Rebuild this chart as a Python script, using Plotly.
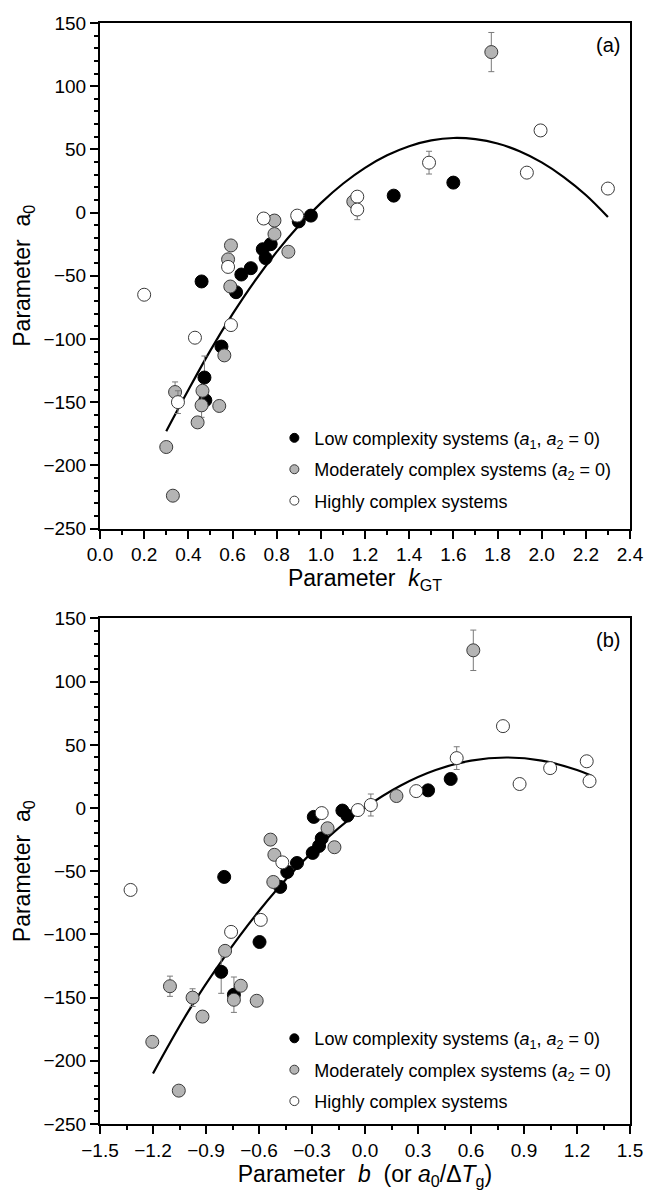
import plotly.graph_objects as go

# ---------------- Panel (a): a0 vs k_GT ----------------
a_low_x = [0.955, 0.90, 0.737, 0.773, 0.75, 0.683, 0.64, 0.616, 0.46, 0.55, 0.473, 0.477, 1.33, 1.60]
a_low_y = [-2.4, -7, -29, -25, -36, -44, -49, -63, -54.5, -106, -130.5, -148.5, 13.4, 23.7]
a_low_err = [0, 0, 0, 0, 0, 0, 0, 0, 0, 0, 17, 0, 0, 0]

a_mod_x = [0.79, 0.79, 0.853, 0.593, 0.58, 0.59, 0.563, 0.34, 0.464, 0.46, 0.54, 0.442, 0.30, 0.33, 1.772, 1.147]
a_mod_y = [-6.3, -17, -31, -26, -37, -58.5, -113, -142, -141, -152.5, -153, -166, -185.5, -224, 127, 8.7]
a_mod_err = [0, 0, 0, 0, 0, 0, 0, 8, 0, 9.5, 0, 0, 0, 0, 15.5, 0]

a_high_x = [0.741, 0.893, 0.58, 0.20, 0.593, 0.43, 0.353, 1.995, 1.933, 2.30, 1.49, 1.165, 1.165]
a_high_y = [-4.7, -2.4, -43, -65, -89, -99, -150, 65, 31.6, 19, 39.5, 12.6, 2.4]
a_high_err = [0, 0, 0, 0, 0, 0, 9, 0, 0, 0, 9, 0, 8]

a_fit_x = [0.30, 0.40, 0.50, 0.60, 0.70, 0.80, 0.90, 1.00, 1.10, 1.20, 1.30, 1.40,
           1.50, 1.60, 1.70, 1.80, 1.90, 2.00, 2.10, 2.20, 2.30]
a_fit_y = [-173, -140.4, -109, -80.4, -54.4, -31.1, -10.5, 7.5, 22.8, 35.4, 45.3, 52.5,
           57.1, 59, 58.1, 54.7, 48.5, 39.7, 28.1, 13.9, -3.5]

# ---------------- Panel (b): a0 vs b ----------------
b_low_x = [-0.128, -0.10, 0.357, 0.485, -0.29, -0.385, -0.296, -0.26, -0.245, -0.48, -0.44,
           -0.797, -0.597, -0.814, -0.742]
b_low_y = [-2, -6, 14, 23, -7, -43.5, -35.5, -30, -24, -62.4, -50.6, -54.5, -106, -129.6, -147.7]
b_low_err = [0, 0, 0, 0, 0, 0, 0, 0, 0, 0, 0, 0, 0, 17, 14]

b_mod_x = [0.613, 0.178, -0.212, -0.173, -0.535, -0.513, -0.519, -0.792, -1.104, -0.703,
           -0.976, -0.742, -0.613, -0.92, -1.204, -1.054]
b_mod_y = [124.8, 9.5, -16, -31, -25, -37, -58.5, -113, -141, -140.6, -150, -151.7,
           -152.5, -165, -185, -223.6]
b_mod_err = [16, 0, 0, 0, 0, 0, 0, 0, 8, 0, 7, 0, 0, 0, 0, 0]

b_high_x = [0.781, 0.519, 1.048, 1.255, 1.271, 0.875, 0.29, 0.033, -0.04, -0.245, -0.468,
            -1.327, -0.59, -0.758]
b_high_y = [64.8, 39.5, 31.6, 37, 21.3, 19, 13.4, 2.4, -1.6, -4, -43, -64.8, -88.5, -98]
b_high_err = [0, 9, 0, 0, 0, 0, 0, 8.7, 0, 0, 0, 0, 0, 0]

b_fit_x = [-1.20, -1.00, -0.80, -0.60, -0.40, -0.20, 0.00, 0.20, 0.40, 0.60, 0.80, 1.00, 1.20, 1.28]
b_fit_y = [-210, -160.9, -118.7, -81.5, -49.3, -22, 0.3, 17.7, 30.1, 37.5, 40, 37.5, 30.1, 25.7]

legend_names = [
    "Low complexity systems (<i>a</i><sub>1</sub>, <i>a</i><sub>2</sub> = 0)",
    "Moderately complex systems (<i>a</i><sub>2</sub> = 0)",
    "Highly complex systems",
]

FONT = "Arial, Liberation Sans, sans-serif"
styles = [
    dict(color="#000000", line=dict(color="#000000", width=1)),
    dict(color="#b4b4b4", line=dict(color="#3a3a3a", width=1)),
    dict(color="#ffffff", line=dict(color="#3a3a3a", width=1)),
]
MS = 13

fig = go.Figure()

def add_panel(xref, yref, sets, fitx, fity, legend_id):
    fig.add_trace(go.Scatter(x=fitx, y=fity, mode="lines", line=dict(color="black", width=2.2, shape="spline"),
                             xaxis=xref, yaxis=yref, showlegend=False, hoverinfo="skip"))
    for (xs, ys, es), st in zip(sets, styles):
        fig.add_trace(go.Scatter(
            x=xs, y=ys, mode="markers", xaxis=xref, yaxis=yref, showlegend=False,
            marker=dict(size=MS, color=st["color"], line=st["line"]),
            error_y=dict(type="data", array=es, visible=True, color="#7a7a7a", thickness=1, width=3),
        ))
    for i, (name, st) in enumerate(zip(legend_names, styles)):
        fig.add_trace(go.Scatter(
            x=[None], y=[None], mode="markers", xaxis=xref, yaxis=yref, name=name,
            legend=legend_id, legendgroup=f"{legend_id}_{i}",
            marker=dict(size=9, color=st["color"], line=st["line"]),
        ))

add_panel("x", "y", [(a_low_x, a_low_y, a_low_err), (a_mod_x, a_mod_y, a_mod_err),
                     (a_high_x, a_high_y, a_high_err)], a_fit_x, a_fit_y, "legend")
add_panel("x2", "y2", [(b_low_x, b_low_y, b_low_err), (b_mod_x, b_mod_y, b_mod_err),
                       (b_high_x, b_high_y, b_high_err)], b_fit_x, b_fit_y, "legend2")

axis_common = dict(showline=True, linecolor="black", linewidth=2, mirror=True, ticks="outside",
                   ticklen=8, tickwidth=2, tickcolor="black", showgrid=False, zeroline=False,
                   tickfont=dict(size=19, color="black", family=FONT))

H = 1102.0
ya_dom = [(1125 - 529) / H, 1.0]
yb_dom = [0.0, (1125 - 619) / H]
TITLE_SIZE = 23
LEG_SIZE = 18

fig.update_layout(
    width=656, height=1193,
    margin=dict(l=100, r=18, t=23, b=68),
    paper_bgcolor="white", plot_bgcolor="white",
    font=dict(family=FONT, color="black"),
    xaxis=dict(axis_common, range=[0, 2.4], tickvals=[0, .2, .4, .6, .8, 1, 1.2, 1.4, 1.6, 1.8, 2, 2.2, 2.4],
               tickformat=".1f", anchor="y",
               minor=dict(dtick=0.1, ticklen=4, tickwidth=1.5, tickcolor="black", ticks="outside"),
               title=dict(text="Parameter  <i>k</i><sub>GT</sub>", font=dict(size=TITLE_SIZE), standoff=4)),
    yaxis=dict(axis_common, range=[-250, 150], dtick=50, domain=ya_dom, anchor="x",
               minor=dict(dtick=10, ticklen=4, tickwidth=1.5, tickcolor="black", ticks="outside"),
               title=dict(text="Parameter  a<sub>0</sub>", font=dict(size=TITLE_SIZE), standoff=6)),
    xaxis2=dict(axis_common, range=[-1.5, 1.5], tickvals=[-1.5, -1.2, -0.9, -0.6, -0.3, 0, 0.3, 0.6, 0.9, 1.2, 1.5],
                tickformat=".1f", anchor="y2",
                minor=dict(dtick=0.15, ticklen=4, tickwidth=1.5, tickcolor="black", ticks="outside"),
                title=dict(text="Parameter  <i>b</i>  (or <i>a</i><sub>0</sub>/Δ<i>T</i><sub>g</sub>)",
                           font=dict(size=TITLE_SIZE), standoff=4)),
    yaxis2=dict(axis_common, range=[-250, 150], dtick=50, domain=yb_dom, anchor="x2",
                minor=dict(dtick=10, ticklen=4, tickwidth=1.5, tickcolor="black", ticks="outside"),
                title=dict(text="Parameter  a<sub>0</sub>", font=dict(size=TITLE_SIZE), standoff=6)),
    legend=dict(x=(277 - 100) / 538, y=(1125 - 420) / H, xanchor="left", yanchor="top",
                bgcolor="rgba(0,0,0,0)", font=dict(size=LEG_SIZE, family=FONT), tracegroupgap=5,
                itemclick=False),
    legend2=dict(x=(277 - 100) / 538, y=(1125 - 1021) / H, xanchor="left", yanchor="top",
                 bgcolor="rgba(0,0,0,0)", font=dict(size=LEG_SIZE, family=FONT), tracegroupgap=5,
                 itemclick=False),
    annotations=[
        dict(text="(a)", x=0.985, y=0.992, xref="paper", yref="paper", xanchor="right", yanchor="top",
             showarrow=False, font=dict(size=20, family=FONT)),
        dict(text="(b)", x=0.985, y=yb_dom[1] - 0.008, xref="paper", yref="paper", xanchor="right",
             yanchor="top", showarrow=False, font=dict(size=20, family=FONT)),
    ],
)

fig.write_html("out.html")
